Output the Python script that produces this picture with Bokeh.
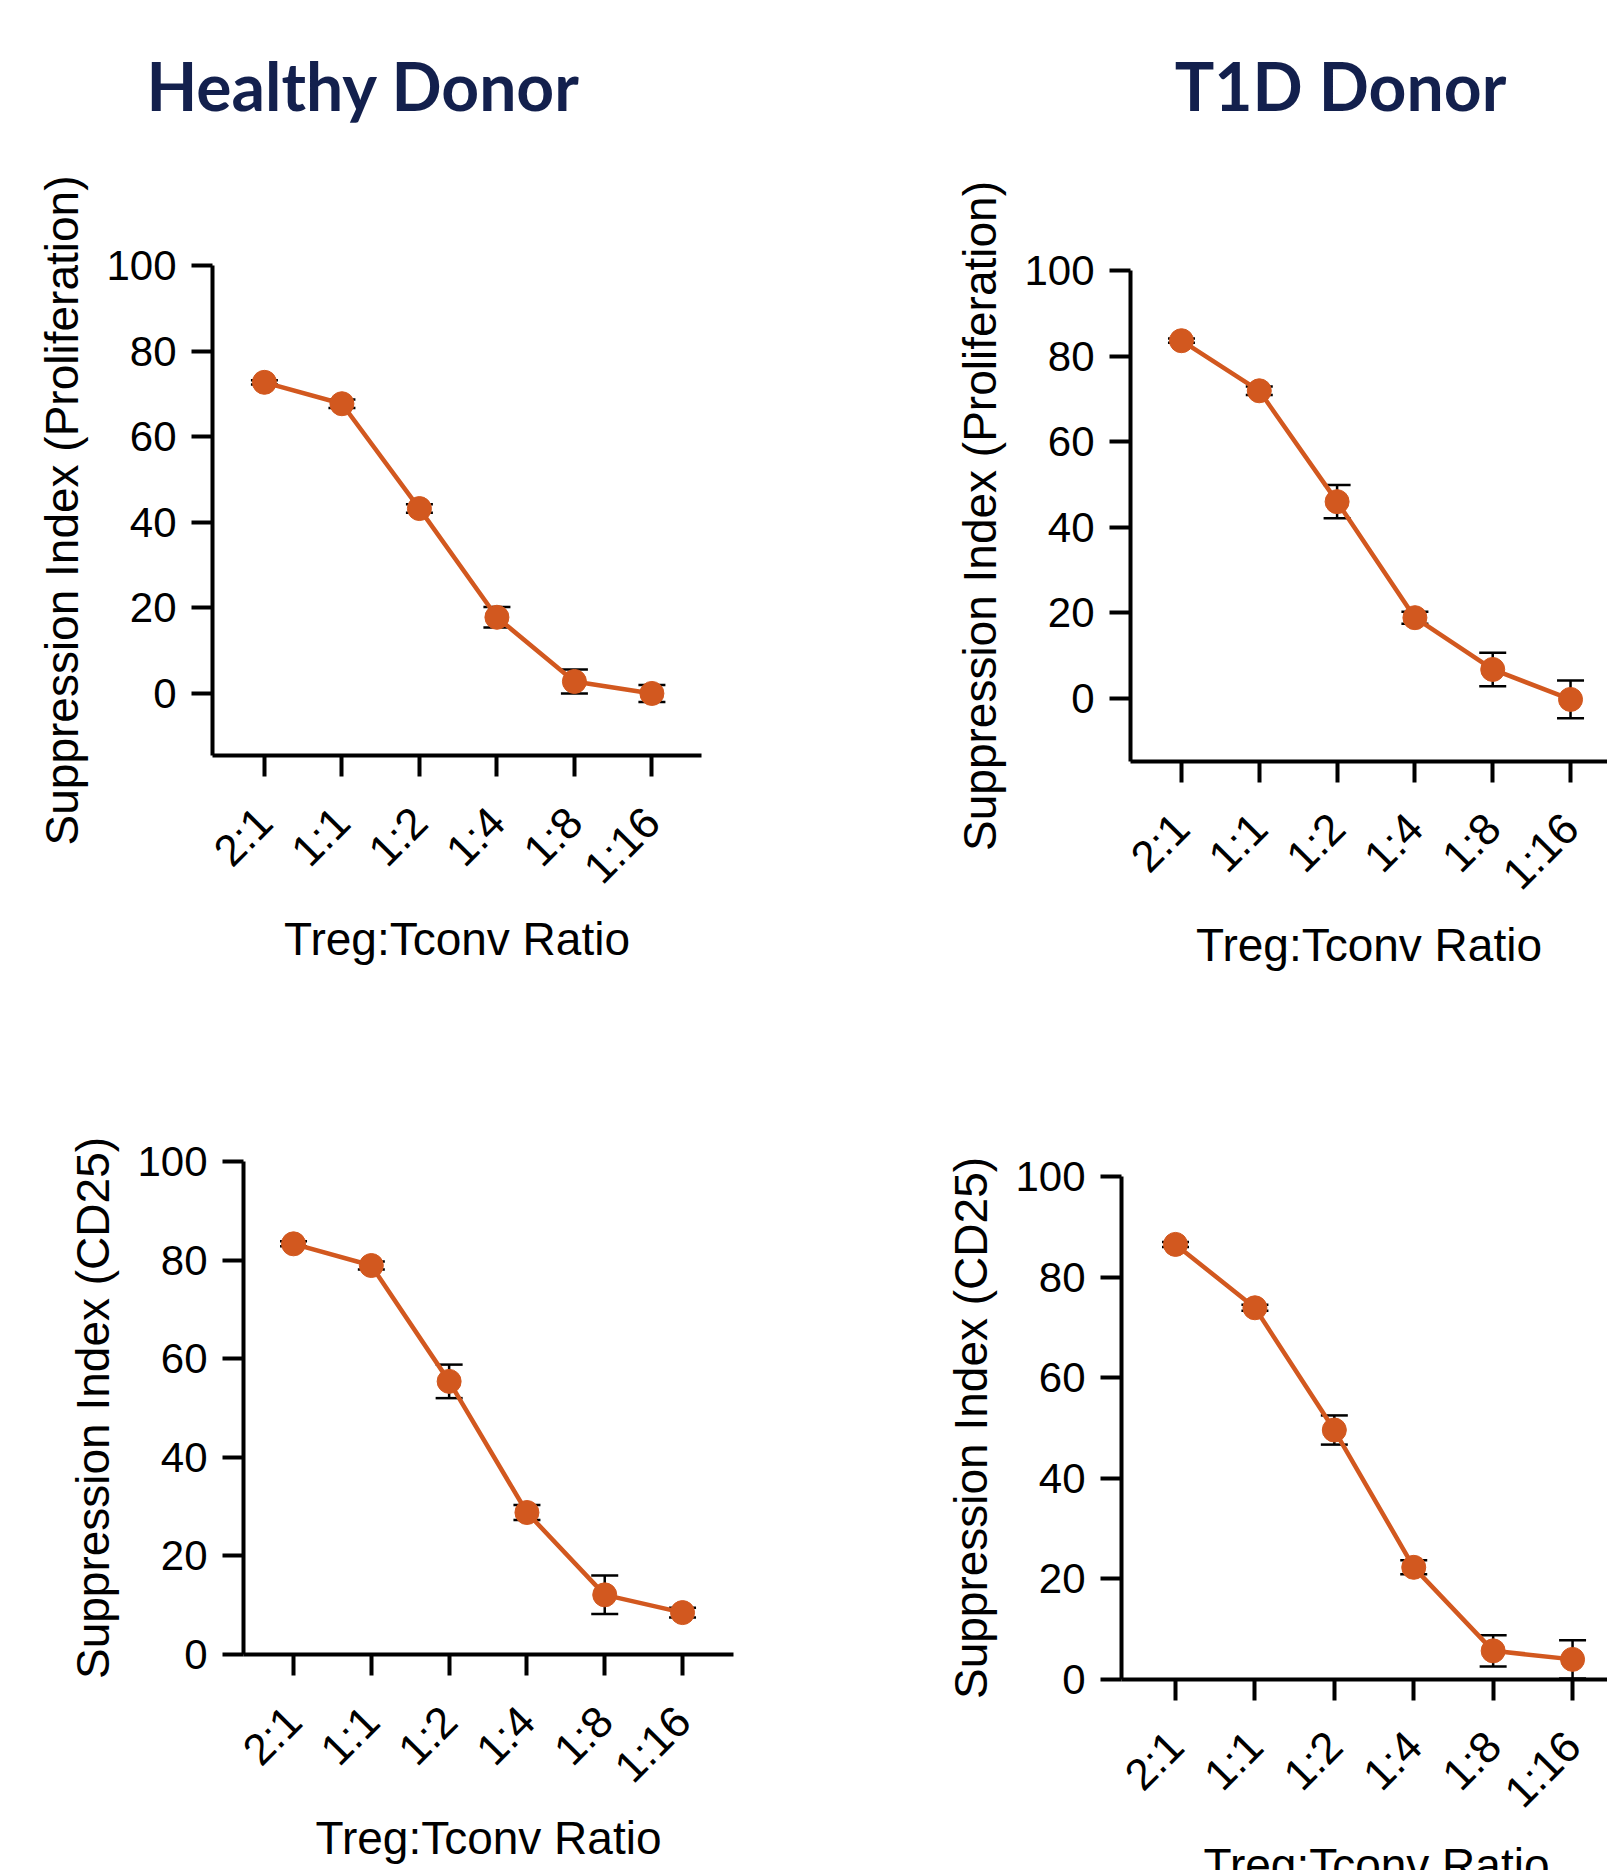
import math
from bokeh.plotting import figure
from bokeh.layouts import column, row
from bokeh.models import (FixedTicker, Whisker, TeeHead, ColumnDataSource,
                          Label, Range1d)
from bokeh.embed import file_html
from bokeh.resources import INLINE

# ---------------- data ----------------
ratios = ["2:1", "1:1", "1:2", "1:4", "1:8", "1:16"]

hd_prolif = [72.7, 67.7, 43.2, 17.8, 2.8, 0.0]
hd_prolif_err = [0.5, 1.0, 1.0, 2.4, 2.8, 2.0]

t1d_prolif = [83.6, 71.9, 46.0, 18.9, 6.8, -0.2]
t1d_prolif_err = [0.5, 1.0, 3.9, 1.4, 3.9, 4.4]

hd_cd25 = [83.3, 78.9, 55.4, 28.8, 12.1, 8.5]
hd_cd25_err = [0.5, 0.8, 3.4, 1.5, 3.9, 1.0]

t1d_cd25 = [86.5, 73.9, 49.6, 22.3, 5.7, 4.0]
t1d_cd25_err = [0.5, 0.6, 2.9, 1.4, 3.1, 3.8]

titles = ["Healthy Donor", "T1D Donor"]
ylabels = ["Suppression Index (Proliferation)", "Suppression Index (CD25)"]
xlabel = "Treg:Tconv Ratio"
yticks = [0, 20, 40, 60, 80, 100]

ORANGE = "#D2581F"
NAVY = "#13204D"
FONT = "Liberation Sans"


def text_strip(width, height, text, x, y, font, size, color, style="normal"):
    """A bare canvas (no axes) whose frame is the whole canvas; 1 unit = 1 px."""
    t = figure(width=width, height=height, x_range=Range1d(0, width),
               y_range=Range1d(0, height), output_backend="svg",
               toolbar_location=None, x_axis_location=None,
               y_axis_location=None, min_border=0)
    t.xgrid.visible = False
    t.ygrid.visible = False
    t.outline_line_color = None
    t.add_layout(Label(x=x, y=y, text=text, text_font=font,
                       text_font_style=style, text_font_size=size,
                       text_color=color, text_align="center",
                       text_baseline="middle"))
    return t


def panel(width, height, borders, xr, yr, vals, errs, ylab, with_xlabel=True):
    l, r, t, b = borders
    p = figure(width=width, height=height, x_range=Range1d(*xr),
               y_range=Range1d(*yr), output_backend="svg",
               toolbar_location=None, min_border_left=l, min_border_right=r,
               min_border_top=t, min_border_bottom=b)
    p.xgrid.visible = False
    p.ygrid.visible = False
    p.outline_line_color = None
    p.background_fill_color = "white"
    p.border_fill_color = "white"

    for ax in (p.xaxis[0], p.yaxis[0]):
        ax.axis_line_width = 4
        ax.axis_line_color = "black"
        ax.major_tick_line_width = 4
        ax.major_tick_line_color = "black"
        ax.major_tick_out = 21
        ax.major_tick_in = 0
        ax.minor_tick_in = 0
        ax.minor_tick_out = 0
        ax.major_label_text_font = FONT
        ax.major_label_text_font_size = "42px"
        ax.major_label_text_color = "black"
        ax.axis_label_text_font = FONT
        ax.axis_label_text_font_size = "46px"
        ax.axis_label_text_font_style = "normal"
        ax.axis_label_text_color = "black"

    p.yaxis.ticker = FixedTicker(ticks=yticks)
    p.yaxis.major_label_standoff = 15
    p.yaxis.axis_label = ylab
    p.yaxis.axis_label_standoff = 15

    p.xaxis.ticker = FixedTicker(ticks=list(range(len(ratios))))
    p.xaxis.major_label_overrides = {i: s for i, s in enumerate(ratios)}
    p.xaxis.major_label_orientation = math.pi / 4
    p.xaxis.major_label_text_font_size = "44px"
    p.xaxis.major_label_standoff = 38
    if with_xlabel:
        p.xaxis.axis_label = xlabel
        p.xaxis.axis_label_standoff = 0

    xs = list(range(len(ratios)))
    src = ColumnDataSource(dict(
        x=xs, y=vals,
        upper=[v + e for v, e in zip(vals, errs)],
        lower=[v - e for v, e in zip(vals, errs)]))
    w = Whisker(source=src, base="x", upper="upper", lower="lower",
                line_color="black", line_width=2.5, level="underlay",
                upper_head=TeeHead(size=27, line_width=2.5, line_color="black"),
                lower_head=TeeHead(size=27, line_width=2.5, line_color="black"))
    p.add_layout(w)
    p.line("x", "y", source=src, line_width=4.5, line_color=ORANGE)
    p.scatter("x", "y", source=src, size=24, fill_color=ORANGE,
              line_color=ORANGE, line_width=1)
    return p


# title strips
t1 = text_strip(800, 140, titles[0], 363, 55, "Lato", "66px", NAVY, "bold")
t2 = text_strip(807, 140, titles[1], 540, 55, "Lato", "66px", NAVY, "bold")

# panels
p1 = panel(800, 900, (212, 99, 125, 285), (-0.67, 5.64), (-14.5, 100),
           hd_prolif, hd_prolif_err, ylabels[0])
p2 = panel(807, 900, (330, 0, 130, 279), (-0.655, 5.475), (-14.7, 100),
           t1d_prolif, t1d_prolif_err, ylabels[0])
p3 = panel(800, 830, (243, 67, 121, 216), (-0.643, 5.655), (0, 100),
           hd_cd25, hd_cd25_err, ylabels[1])
p4 = panel(807, 800, (321, 0, 136, 161), (-0.68, 5.44), (0, 100),
           t1d_cd25, t1d_cd25_err, ylabels[1], with_xlabel=False)
# x-axis title of the lower-right panel, cut by the page's bottom edge
l4 = text_strip(807, 30, xlabel, 576, 6, FONT, "46px", "black")

layout = column(
    row(column(t1), column(t2), spacing=0),
    row(column(p1), column(p2), spacing=0),
    row(column(p3), column(row(p4), row(l4), spacing=0), spacing=0),
    spacing=0)

open("out.html", "w").write(file_html(layout, INLINE))
